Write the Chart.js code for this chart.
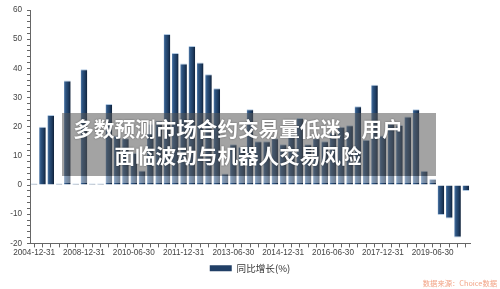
<!DOCTYPE html>
<html>
<head>
<meta charset="utf-8">
<script src="https://cdn.jsdelivr.net/npm/chart.js@4.4.1/dist/chart.umd.min.js"></script>
<style>
    body { margin: 0; background: #fff; }
    #wrap { position: relative; width: 500px; height: 289px; overflow: hidden; }
    #growth-chart { position: absolute; left: 0; top: 0; }
    #banner { position: absolute; left: 62px; top: 113px; width: 374px; height: 63px; background: rgba(88, 88, 88, 0.55); }
    #banner-fade { position: absolute; left: 62px; top: 176px; width: 374px; height: 7px; background: rgba(255, 255, 255, 0.4); }
    #banner-text { position: absolute; left: 38px; top: 115px; width: 400px; text-align: center; color: #fff;
        font-family: "Noto Sans CJK SC", sans-serif; font-weight: 700; font-size: 20.6px; line-height: 27px;
        text-shadow: 0 0 2px rgba(0,0,0,0.45); }
    #source { position: absolute; right: 3px; top: 278px; color: #f2a385; font-family: "Noto Sans CJK SC", sans-serif; font-size: 7.3px; }
</style>
</head>
<body>
<div id="wrap">
    <canvas id="growth-chart" width="500" height="289"></canvas>
    <div id="banner"></div>
    <div id="banner-fade"></div>
    <div id="banner-text">多数预测市场合约交易量低迷，用户<br>面临波动与机器人交易风险</div>
    <div id="source">数据来源：Choice数据</div>
</div>
<script>
// 报告期（前几期为年度/半年度，之后为季度）
const periods = [
    '2004-12-31', '2005-12-31', '2006-12-31', '2007-06-30', '2007-12-31', '2008-06-30',
    '2008-12-31', '2009-03-31', '2009-06-30', '2009-09-30', '2009-12-31', '2010-03-31',
    '2010-06-30', '2010-09-30', '2010-12-31', '2011-03-31', '2011-06-30', '2011-09-30',
    '2011-12-31', '2012-03-31', '2012-06-30', '2012-09-30', '2012-12-31', '2013-03-31',
    '2013-06-30', '2013-09-30', '2013-12-31', '2014-03-31', '2014-06-30', '2014-09-30',
    '2014-12-31', '2015-03-31', '2015-06-30', '2015-09-30', '2015-12-31', '2016-03-31',
    '2016-06-30', '2016-09-30', '2016-12-31', '2017-03-31', '2017-06-30', '2017-09-30',
    '2017-12-31', '2018-03-31', '2018-06-30', '2018-09-30', '2018-12-31', '2019-03-31',
    '2019-06-30', '2019-09-30', '2019-12-31', '2020-03-31', '2020-06-30'
];

// 同比增长(%)
const yoyGrowth = [
    0.5, 20, 24, 0.5, 35.8, 0.5,
    39.7, 0.5, 0.5, 27.8, 17, 16,
    11, 5, 21, 22, 51.8, 45.3,
    41.7, 47.7, 42, 38, 33.2, 4,
    14, 13, 26, 15, 15, 16,
    14, 18, 23, 14, 16, 15,
    18, 20, 20.5, 27, 15.5, 34.4,
    17, 21, 20.6, 23.5, 26, 4.9,
    2.2, -10.3, -11.5, -18, -2
];

const seriesName = '同比增长(%)';
const yTicks = [-20, -10, 0, 10, 20, 30, 40, 50, 60];

const BAR_PCT = 0.8;

function barFill(context) {
    const chart = context.chart;
    const xScale = chart.scales && chart.scales.x;
    if (!chart.chartArea || !xScale || context.dataIndex === undefined) return '#223f66';
    const cx = xScale.getPixelForValue(context.dataIndex);
    const half = (xScale.getPixelForValue(1) - xScale.getPixelForValue(0)) * BAR_PCT / 2;
    const g = chart.ctx.createLinearGradient(cx - half, 0, cx + half, 0);
    g.addColorStop(0, '#5a82b0');
    g.addColorStop(0.25, '#2e5582');
    g.addColorStop(0.7, '#1d3a5e');
    g.addColorStop(1, '#0e1f36');
    return g;
}

const axisFont = { family: '"Liberation Sans", Arial, sans-serif', size: 8.2 };

new Chart(document.getElementById('growth-chart').getContext('2d'), {
    type: 'bar',
    data: {
        labels: periods,
        datasets: [{
            label: seriesName,
            data: yoyGrowth,
            backgroundColor: barFill,
            borderColor: 'rgba(170, 195, 222, 0.9)',
            borderWidth: function(c) {
                const v = c.raw;
                return v >= 0 ? { top: 1, left: 0, right: 0, bottom: 0 } : { bottom: 1, left: 0, right: 0, top: 0 };
            },
            borderSkipped: false,
            barPercentage: BAR_PCT,
            categoryPercentage: 1
        }]
    },
    options: {
        responsive: false,
        animation: false,
        devicePixelRatio: 1,
        layout: { padding: { top: 10, right: 0, left: 0, bottom: 6 } },
        plugins: {
            tooltip: { enabled: false },
            legend: {
                position: 'bottom',
                labels: {
                    color: '#333',
                    font: { family: '"Noto Sans CJK SC", sans-serif', size: 9.6 },
                    boxWidth: 22,
                    boxHeight: 6,
                    padding: 6,
                    generateLabels: function(chart) {
                        const items = Chart.defaults.plugins.legend.labels.generateLabels(chart);
                        items.forEach(function(it) {
                            it.fillStyle = '#213f66';
                            it.strokeStyle = '#213f66';
                            it.lineWidth = 0;
                        });
                        return items;
                    }
                }
            }
        },
        scales: {
            x: {
                offset: true,
                grid: { display: true, offset: false, drawOnChartArea: false, drawTicks: true, tickLength: 4, color: '#666' },
                border: { display: true, color: '#666', width: 1 },
                ticks: {
                    autoSkip: false,
                    maxRotation: 0,
                    minRotation: 0,
                    padding: 0,
                    color: '#444',
                    font: axisFont,
                    callback: function(v, i) { return i % 6 === 0 ? periods[i] : ''; }
                },
                afterFit: function(scale) { scale.height = 14; }
            },
            y: {
                min: yTicks[0],
                max: yTicks[yTicks.length - 1],
                grid: { display: true, drawOnChartArea: false, drawTicks: true, tickLength: 3, color: '#666' },
                border: { display: true, color: '#666', width: 1 },
                ticks: {
                    autoSkip: false,
                    stepSize: 2,
                    padding: 5,
                    color: '#444',
                    font: axisFont,
                    callback: function(v) { return yTicks.indexOf(v) >= 0 ? v : ''; }
                },
                afterFit: function(scale) { scale.width = 30; }
            },
            // 右侧留白（不显示刻度），让图例居中于整个画布
            yRight: {
                position: 'right',
                min: yTicks[0],
                max: yTicks[yTicks.length - 1],
                grid: { display: false },
                border: { display: false },
                ticks: { display: false },
                afterFit: function(scale) { scale.width = 30; }
            }
        }
    }
});
</script>
</body>
</html>
